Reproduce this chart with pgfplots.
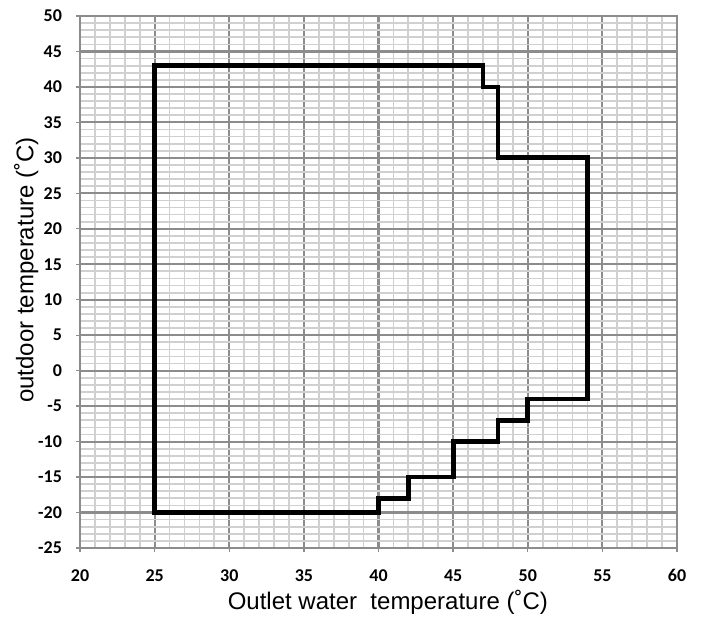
\documentclass[border=0pt]{standalone}
\usepackage{fontspec}
\setmainfont{Liberation Sans}
\newfontfamily\tickfont{Carlito}
\usepackage{pgfplots}
\pgfplotsset{compat=1.18}
\definecolor{majgrid}{HTML}{8C8C8C}
\definecolor{mingrid}{HTML}{D0D0D0}
\begin{document}
\begin{tikzpicture}
\begin{axis}[
  scale only axis,
  width=447.75pt, height=399pt,
  xmin=20, xmax=60, ymin=-25, ymax=50,
  xtick={20,25,...,60}, ytick={-25,-20,...,50},
  minor x tick num=4, minor y tick num=4,
  grid=both,
  major grid style={majgrid, line width=1.6pt},
  minor grid style={mingrid, line width=1.3pt},
  axis line style={majgrid, line width=1.2pt},
  tick align=outside,
  xtick pos=bottom, ytick pos=left,
  major tick length=3pt, minor tick length=0pt,
  tick style={majgrid, line width=1pt},
  /pgf/number format/assume math mode=true,
  ticklabel style={font=\tickfont\bfseries\fontsize{13.5}{15}\selectfont},
  xticklabel style={anchor=base, yshift=-22pt},
  yticklabel style={xshift=-7pt},
  xlabel={Outlet water\ \ temperature (˚C)},
  ylabel={outdoor temperature (˚C)},
  label style={font=\fontsize{18}{21}\selectfont},
  xlabel style={yshift=0.5pt, xshift=7pt},
  ylabel style={yshift=-7pt, xshift=9pt},
]
\addplot[black, line width=3.6pt, line join=miter, mark=none] coordinates {
  (25,-20) (25,43) (47,43) (47,40) (48,40) (48,30) (54,30) (54,-4)
  (50,-4) (50,-7) (48,-7) (48,-10) (45,-10) (45,-15) (42,-15) (42,-18)
  (40,-18) (40,-20) (25,-20)
} -- cycle;
\end{axis}
\pgfresetboundingbox
\path (current axis.south west) ++(-60pt,-52.5pt) coordinate (bl);
\path (current axis.north east) ++(18.75pt,12pt) coordinate (tr);
\path[use as bounding box] (bl) rectangle (tr);
\end{tikzpicture}
\end{document}
